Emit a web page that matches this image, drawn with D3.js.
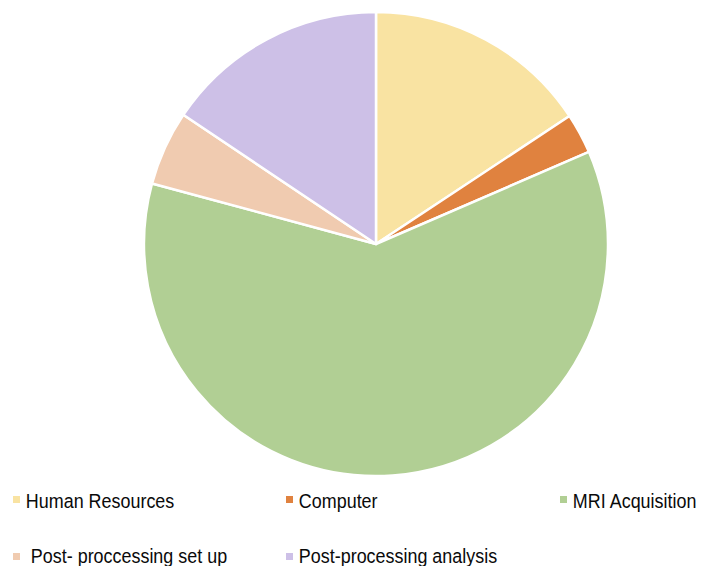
<!DOCTYPE html>
<html>
<head>
<meta charset="utf-8">
<script src="https://cdn.jsdelivr.net/npm/d3@7/dist/d3.min.js"></script>
<style>
  html, body { margin: 0; padding: 0; background: #fff; }
  svg { display: block; }
  .legend text { font-family: "Liberation Sans", Arial, Helvetica, sans-serif; font-size: 19.5px; fill: #0a0a0a; white-space: pre; }
</style>
</head>
<body>
<svg id="chart" width="704" height="566"></svg>
<script>
// Cost breakdown (% of total)
const categories = ["Human Resources", "Computer", "MRI Acquisition", " Post- proccessing set up", "Post-processing analysis"];
const values = [15.7, 2.8, 60.7, 5.2, 15.6];
const colors = ["#F9E3A2", "#E0823F", "#B1CF94", "#F0CBB0", "#CDC0E7"];

const data = categories.map((c, i) => ({ name: c, value: values[i], color: colors[i] }));

const svg = d3.select("#chart");
const cx = 376, cy = 244, radius = 232;

const pie = d3.pie().sort(null).value(d => d.value);
const arc = d3.arc().innerRadius(0).outerRadius(radius);

svg.append("g")
  .attr("transform", `translate(${cx},${cy})`)
  .selectAll("path")
  .data(pie(data))
  .join("path")
  .attr("d", arc)
  .attr("fill", d => d.data.color)
  .attr("stroke", "#fff")
  .attr("stroke-width", 2.5)
  .attr("stroke-linejoin", "round");

// Legend: three columns, two rows
const colX = [13, 286, 560];
const rowY = [508, 563];
const legend = svg.append("g").attr("class", "legend");
const items = legend.selectAll("g")
  .data(data)
  .join("g")
  .attr("transform", (d, i) => `translate(${colX[i % 3]},${rowY[Math.floor(i / 3)]})`);

items.append("rect")
  .attr("x", 0).attr("y", (d, i) => i < 3 ? -12 : -10)
  .attr("width", 7).attr("height", 7)
  .attr("fill", d => d.color);

items.append("text")
  .attr("x", 14)
  .attr("y", 0)
  .attr("transform", "scale(0.92,1)")
  .text(d => d.name);
</script>
</body>
</html>
